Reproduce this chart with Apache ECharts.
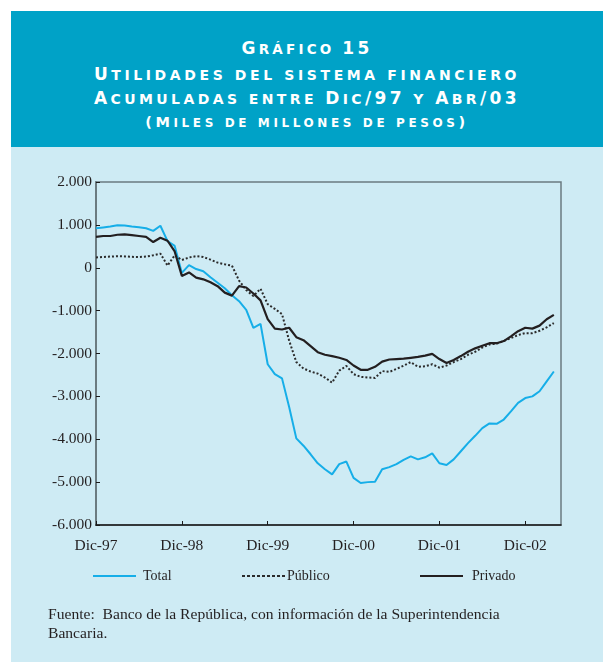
<!DOCTYPE html>
<html>
<head>
<meta charset="utf-8">
<script src="https://cdn.jsdelivr.net/npm/echarts@6/dist/echarts.min.js"></script>
<style>
  html, body { margin: 0; padding: 0; background: #fff; }
  .page { position: relative; width: 603px; height: 662px; overflow: hidden; }
  .header {
    position: absolute; left: 11px; top: 11px; width: 592px; height: 136px;
    background: #00a2c7; color: #fff; text-align: center;
    font-family: "DejaVu Sans", sans-serif; font-weight: bold;
  }
  .header p { margin: 0; position: absolute; left: 0; width: 100%; white-space: nowrap; }
  .panel {
    position: absolute; left: 11px; top: 147px; width: 592px; height: 515px;
    background: #ceebf4;
  }
  .chart { position: absolute; left: 0; top: 0; width: 603px; height: 662px; }
  .fuente {
    position: absolute; left: 48px; top: 604px; width: 540px;
    font-family: "Liberation Serif", serif; font-size: 15.6px; line-height: 19px;
    color: #231f20; white-space: nowrap;
  }
</style>
</head>
<body>
<div class="page">
  <div class="header">
    <p class="sc" data-big="17" data-small="13.5" style="top:27px;letter-spacing:3.2px">Gráfico 15</p>
    <p class="sc" data-big="17" data-small="14" style="top:53px;letter-spacing:3.6px">Utilidades del sistema financiero</p>
    <p class="sc" data-big="17" data-small="14" style="top:77px;letter-spacing:3.4px">Acumuladas entre Dic/97 y Abr/03</p>
    <p class="sc" data-big="14.5" data-small="12" style="top:101px;letter-spacing:3.6px">(Miles de millones de pesos)</p>
  </div>
  <div class="panel"></div>
  <div class="chart" id="chart"></div>
  <div class="fuente">Fuente:&nbsp; Banco de la República, con información de la Superintendencia<br>Bancaria.</div>
</div>
<script>
// versalitas a mano: mayúsculas y cifras grandes, el resto pequeño
document.querySelectorAll('.sc').forEach(function(p) {
  const big = p.dataset.big, small = p.dataset.small
  let html = ''
  for (const ch of p.textContent) {
    const grande = /[A-Z0-9()\/]/.test(ch)
    html += '<span style="font-size:' + (grande ? big : small) + 'px">' + ch.toUpperCase() + '</span>'
  }
  p.innerHTML = html
})

// meses Dic-97 ... May-03 (el último solo cierra el eje)
const mesNombres = ['Dic', 'Ene', 'Feb', 'Mar', 'Abr', 'May', 'Jun', 'Jul', 'Ago', 'Sep', 'Oct', 'Nov']
const categorias = []
for (let i = 0; i < 66; i++) {
  const yy = 97 + Math.floor(i / 12) + (i % 12 === 0 ? 0 : 1)
  categorias.push(mesNombres[i % 12] + '-' + String(yy % 100).padStart(2, '0'))
}

const total = [
  920, 940, 960, 990, 985, 960, 945, 920, 860, 980, 620, 510,
  -120, 60, -30, -80, -220, -350, -480, -640, -780, -980, -1400, -1310,
  -2250, -2480, -2580, -3250, -3980, -4150, -4350, -4560, -4700, -4820, -4580, -4520,
  -4900, -5020, -5000, -4990, -4700, -4650, -4580, -4480, -4400, -4470, -4420, -4330,
  -4560, -4600, -4470, -4280, -4090, -3920, -3740, -3630, -3640, -3540, -3350, -3150,
  -3040, -3000, -2880, -2650, -2420
]
const publico = [
  240, 250, 260, 270, 265, 255, 250, 260, 290, 330, 50, 290,
  180, 240, 270, 250, 190, 120, 80, 50, -300, -520, -660, -490,
  -850, -960, -1080, -1700, -2200, -2350, -2420, -2470, -2560, -2680, -2400, -2290,
  -2480, -2545, -2560, -2570, -2410, -2430, -2360, -2285, -2200, -2310, -2300, -2250,
  -2330, -2280, -2200, -2130, -2030, -1960, -1860, -1790, -1770, -1710, -1640, -1570,
  -1525, -1525, -1470, -1390, -1290
]
const privado = [
  720, 740, 740, 770, 780, 760, 740, 720, 600, 700, 630, 380,
  -190, -110, -230, -270, -340, -430, -580, -650, -430, -460, -600, -760,
  -1200, -1420, -1440, -1400, -1620, -1690, -1830, -1970, -2030, -2060, -2100, -2150,
  -2280, -2380, -2380, -2310, -2190, -2140, -2130, -2120, -2100, -2080, -2050, -2010,
  -2130, -2220, -2150, -2060, -1960, -1880, -1820, -1760, -1760, -1710, -1600, -1480,
  -1400, -1420, -1350, -1200, -1100
]

const chart = echarts.init(document.getElementById('chart'))
const serif = '"Liberation Serif", serif'
const textColor = '#231f20'

function miles(v) {
  const s = Math.abs(v).toString().replace(/\B(?=(\d{3})+(?!\d))/g, '.')
  return (v < 0 ? '-' : '') + s
}

const legendBase = {
  top: 569,
  padding: 0,
  itemWidth: 43,
  itemHeight: 10,
  icon: 'path://M0,4 L43,4 L43,6 L0,6 Z',
  textStyle: { fontFamily: serif, fontSize: 14, color: textColor }
}
const puntos = 'path://M0,4 L3,4 L3,6 L0,6 Z M5,4 L8,4 L8,6 L5,6 Z M10,4 L13,4 L13,6 L10,6 Z M15,4 L18,4 L18,6 L15,6 Z M20,4 L23,4 L23,6 L20,6 Z M25,4 L28,4 L28,6 L25,6 Z M30,4 L33,4 L33,6 L30,6 Z M35,4 L38,4 L38,6 L35,6 Z M40,4 L43,4 L43,6 L40,6 Z'

const option = {
  animation: false,
  grid: {
    left: 96, top: 182, right: 42, bottom: 137,
    show: true, borderColor: '#6b7b80', borderWidth: 1.5,
    backgroundColor: 'transparent'
  },
  legend: [
    Object.assign({}, legendBase, { left: 93, data: ['Total'],
      textStyle: Object.assign({}, legendBase.textStyle, { padding: [0, 0, 0, 2] }) }),
    Object.assign({}, legendBase, { left: 242, data: ['Público'], icon: puntos,
      textStyle: Object.assign({}, legendBase.textStyle, { padding: [0, 0, 0, -3] }) }),
    Object.assign({}, legendBase, { left: 420, data: ['Privado'],
      textStyle: Object.assign({}, legendBase.textStyle, { padding: [0, 0, 0, 4] }) })
  ],
  xAxis: {
    type: 'category',
    data: categorias,
    boundaryGap: false,
    axisLine: { onZero: false, lineStyle: { color: '#1a1a1a', width: 1.5 } },
    axisTick: {
      inside: true, length: 4,
      interval: (i) => i % 12 === 0,
      lineStyle: { color: '#1a1a1a' }
    },
    axisLabel: {
      interval: (i) => i % 12 === 0,
      margin: 13,
      fontFamily: serif, fontSize: 15.5, color: textColor
    },
    splitLine: { show: false }
  },
  yAxis: {
    type: 'value',
    min: -6000, max: 2000, interval: 1000,
    axisLine: { show: true, lineStyle: { color: '#6b7b80', width: 2 } },
    axisTick: { show: true, inside: true, length: 4, lineStyle: { color: '#1a1a1a' } },
    axisLabel: {
      margin: 4,
      formatter: miles,
      fontFamily: serif, fontSize: 15.5, color: textColor
    },
    splitLine: { show: false }
  },
  series: [
    {
      name: 'Total', type: 'line', data: total, symbol: 'none',
      itemStyle: { color: '#16aee8' },
      lineStyle: { color: '#16aee8', width: 2 }
    },
    {
      name: 'Público', type: 'line', data: publico, symbol: 'none',
      itemStyle: { color: '#2b2b2b' },
      lineStyle: { color: '#2b2b2b', width: 2, type: [2, 2] }
    },
    {
      name: 'Privado', type: 'line', data: privado, symbol: 'none',
      itemStyle: { color: '#231f20' },
      lineStyle: { color: '#231f20', width: 2.2 }
    }
  ]
}
chart.setOption(option)
</script>
</body>
</html>
